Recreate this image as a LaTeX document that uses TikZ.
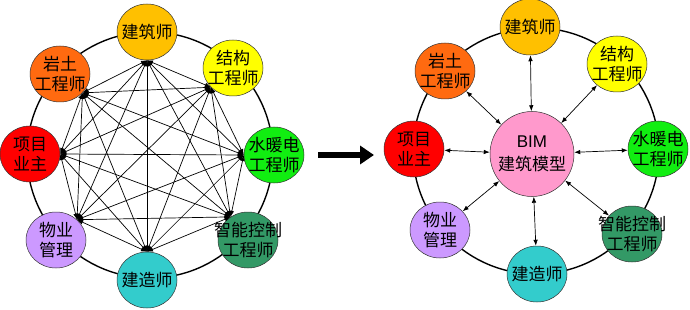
\documentclass[tikz,border=0pt]{standalone}
\usepackage{fontspec}
\setmainfont{Liberation Sans}
\newfontfamily\cjk{Noto Sans CJK SC}
\usetikzlibrary{shapes.geometric,arrows.meta}
\definecolor{cJZ}{HTML}{FFC000}
\definecolor{cYT}{HTML}{FF6A10}
\definecolor{cJG}{HTML}{FFFF00}
\definecolor{cXM}{HTML}{FF0000}
\definecolor{cSN}{HTML}{11EE11}
\definecolor{cWY}{HTML}{CC99FF}
\definecolor{cZN}{HTML}{339966}
\definecolor{cJS}{HTML}{33CCCC}
\definecolor{cBIM}{HTML}{FF99CC}
\tikzset{
  blob/.style={ellipse,draw=black!80,line width=0.5pt,minimum width=60pt,minimum height=56pt,inner sep=0pt},
  txt/.style={font=\cjk\fontsize{17}{20}\selectfont,align=center,inner sep=0pt,text=black},
  ring/.style={line width=1.4pt,draw=black},
  lk/.style={line width=0.7pt,{Latex[length=6pt,width=4.5pt]}-{Latex[length=6pt,width=4.5pt]}},
  rk/.style={line width=0.7pt,{Latex[length=6pt,width=4.5pt]}-{Latex[length=6pt,width=4.5pt]}},
  bigarrow/.style={line width=6pt,-{Triangle[length=14pt,width=18pt]}}
}
\begin{document}
\begin{tikzpicture}[x=1pt,y=-1pt]
\useasboundingbox (0,0) rectangle (690,310);
% ---------- left ----------
\draw[ring] (150,155) circle[radius=123pt];
\node[blob,fill=cJZ] (L1) at (147,32) {};
\node[blob,fill=cJG] (L2) at (233,68) {};
\node[blob,fill=cSN] (L3) at (274,155) {};
\node[blob,fill=cZN] (L4) at (248,240) {};
\node[blob,fill=cJS] (L5) at (147,280) {};
\node[blob,fill=cWY] (L6) at (56,240) {};
\node[blob,fill=cXM] (L7) at (30,154) {};
\node[blob,fill=cYT] (L8) at (60,74) {};
\node[txt] (t1) at (L1) {建筑师};
\node[txt] (t2) at (L2) {结构\\工程师};
\node[txt] (t3) at (L3) {水暖电\\工程师};
\node[txt] (t4) at (L4) {智能控制\\工程师};
\node[txt] (t5) at (L5) {建造师};
\node[txt] (t6) at (L6) {物业\\管理};
\node[txt] (t7) at (L7) {项目\\业主};
\node[txt] (t8) at (L8) {岩土\\工程师};
\coordinate (a1) at (L1.south);
\coordinate (a2) at (L2.221);
\coordinate (a3) at (L3.west);
\coordinate (a4) at (L4.127);
\coordinate (a5) at (L5.north);
\coordinate (a6) at (L6.44);
\coordinate (a7) at (L7.east);
\coordinate (a8) at (L8.320);
\foreach \i [evaluate=\i as \s using int(\i+1)] in {1,...,7}
  \foreach \j in {\s,...,8}
    \draw[lk] (a\i) -- (a\j);
% ---------- arrow ----------
\coordinate (arS) at (318,155);
\coordinate (arE) at (374,155);
\draw[bigarrow] (arS) -- (arE);
% ---------- right ----------
\draw[ring] (536,151) circle[radius=123pt];
\node[blob,fill=cBIM,minimum width=84pt,minimum height=85pt] (B) at (532,154) {};
\node[inner sep=0pt,align=center,font=\fontsize{17}{23}\selectfont] (tb) at (B) {BIM\\{\cjk 建筑模型}};
\node[blob,fill=cJZ] (R1) at (530,27) {};
\node[blob,fill=cJG] (R2) at (617,64) {};
\node[blob,fill=cSN] (R3) at (658,149) {};
\node[blob,fill=cZN] (R4) at (632,234) {};
\node[blob,fill=cJS] (R5) at (537,274) {};
\node[blob,fill=cWY] (R6) at (440,230) {};
\node[blob,fill=cXM] (R7) at (414,149) {};
\node[blob,fill=cYT] (R8) at (445,71) {};
\node[txt] (s1) at (R1) {建筑师};
\node[txt] (s2) at (R2) {结构\\工程师};
\node[txt] (s3) at (R3) {水暖电\\工程师};
\node[txt] (s4) at (R4) {智能控制\\工程师};
\node[txt] (s5) at (R5) {建造师};
\node[txt] (s6) at (R6) {物业\\管理};
\node[txt] (s7) at (R7) {项目\\业主};
\node[txt] (s8) at (R8) {岩土\\工程师};
\foreach \k in {1,...,8}
  \draw[rk] (B) -- (R\k);
\end{tikzpicture}
\end{document}
